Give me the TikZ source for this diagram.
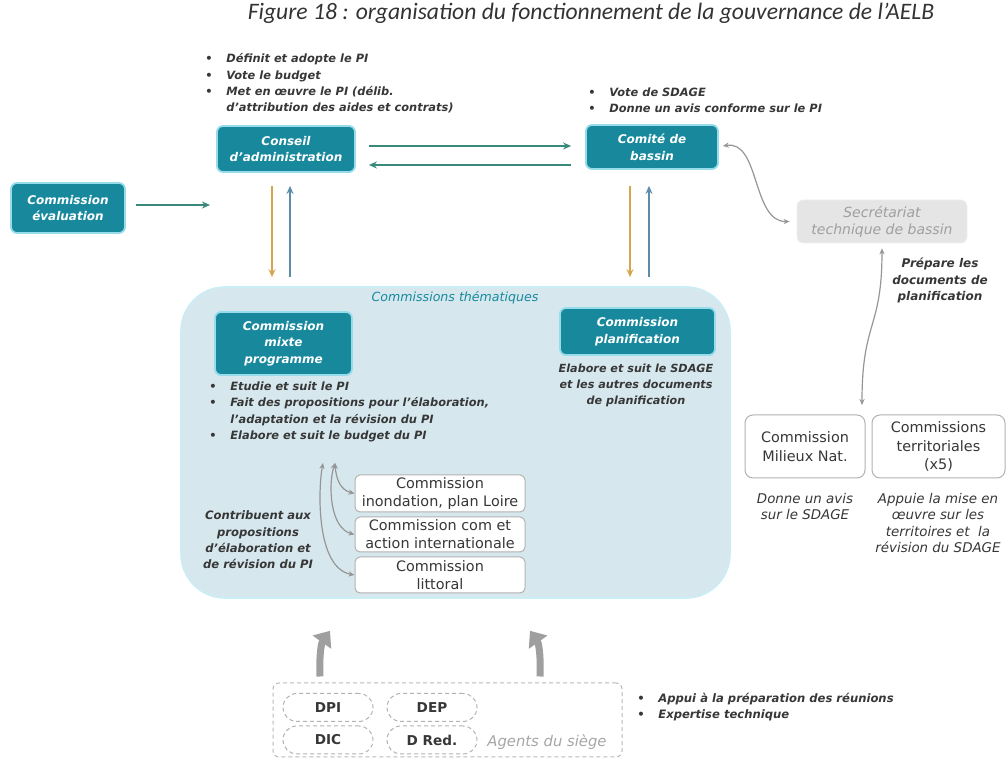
\documentclass[tikz,border=0pt]{standalone}
\usepackage{fontspec}
\setmainfont{DejaVu Sans}[BoldFont={DejaVu Sans Bold},ItalicFont={DejaVu Sans Oblique},BoldItalicFont={DejaVu Sans Bold Oblique}]
\newfontfamily\figtitlefont{Carlito}
\usetikzlibrary{calc,arrows.meta}
\definecolor{aelbteal}{RGB}{24,137,157}
\definecolor{aelbglow}{RGB}{150,220,235}
\definecolor{themefill}{RGB}{214,232,238}
\definecolor{txtgray}{RGB}{55,55,55}
\definecolor{arrgreen}{RGB}{58,138,124}
\definecolor{arrorange}{RGB}{212,166,78}
\definecolor{arrblue}{RGB}{92,140,170}
\definecolor{arrgray}{RGB}{150,150,150}
\def\setfs#1#2{\fontsize{#1}{#2}\selectfont}
\def\bullitem{\makebox[10.5pt][l]{\textbullet}}
\def\bullcont{\hspace*{10.5pt}}

\begin{document}
\begin{tikzpicture}[x=0.5pt,y=-0.5pt,
	tealbox/.style={draw=aelbglow, line width=0.9pt, fill=aelbteal, rounded corners=3pt, text=white, align=center, inner sep=0pt, font=\bfseries\itshape\setfs{6}{8.3}},
	whitebox/.style={draw=gray!60, line width=0.5pt, fill=white, rounded corners=2.5pt, text=txtgray, align=center, inner sep=0pt, font=\setfs{7.2}{9}},
	terrbox/.style={whitebox, rounded corners=4pt, font=\setfs{7.2}{9.2}},
	pill/.style={draw=gray!60, dash pattern=on 2pt off 1.5pt, line width=0.5pt, rounded corners=7pt, text=txtgray, inner sep=0pt, font=\bfseries\setfs{6.8}{8}, minimum width=45pt, minimum height=14pt},
	bullets/.style={anchor=west, align=left, inner sep=0pt, text=txtgray, font=\bfseries\itshape\setfs{5.7}{8.2}},
	note/.style={align=center, inner sep=0pt, text=txtgray, font=\bfseries\itshape\setfs{5.8}{8.2}},
	plainnote/.style={align=center, inner sep=0pt, text=txtgray, font=\itshape\setfs{6.7}{8.3}},
	link/.style={line width=0.75pt, -{Stealth[length=4pt,width=3.5pt]}},
	glink/.style={draw=arrgray, line width=0.6pt, {Stealth[length=3pt,width=2.6pt]}-{Stealth[length=3pt,width=2.6pt]}},
	bigarrow/.style={draw=gray!75!white, line width=3.5pt, -{Triangle[length=7pt,width=11pt]}}]
			%%%%% START %%%%%
			\useasboundingbox (0,0) rectangle (1008,758);
			
			\node[font=\figtitlefont\itshape\setfs{11.8}{13}, text=black!80] (title) at (591,13) {Figure 18 : organisation du fonctionnement de la gouvernance de l’AELB};
			
			% conseil et comite
			\node[bullets] (calist) at (205,83.5) {\bullitem Définit et adopte le PI\\ \bullitem Vote le budget\\ \bullitem Met en œuvre le PI (délib.\\ \bullcont d’attribution des aides et contrats)};
			\node[tealbox, minimum width=69pt, minimum height=23pt] (conseil) at (286,149) {Conseil\\d’administration};
			\node[bullets] (cblist) at (588,100) {\bullitem Vote de SDAGE\\ \bullitem Donne un avis conforme sur le PI};
			\node[tealbox, minimum width=66pt, minimum height=22pt] (comite) at (652,147) {Comité de\\bassin};
			\node[tealbox, minimum width=57pt, minimum height=25pt] (evaluation) at (68,208) {Commission\\évaluation};
			\coordinate (evalend) at (210,205);
			
			\draw[link, arrgreen] ($(conseil.east)+(13,-3)$) -- ($(comite.west)+(-14,-1)$);
			\draw[link, arrgreen] ($(comite.west)+(-14,18)$) -- ($(conseil.east)+(13,16)$);
			\draw[link, arrgreen] ($(evaluation.east)+(10,-3)$) -- (evalend);
			
			% secretariat
			\node[draw=gray!12, fill=gray!20, rounded corners=3pt, minimum width=85pt, minimum height=21.5pt, inner sep=0pt, align=center, text=gray!75, font=\itshape\setfs{7}{8.6}] (secretariat) at (882,221.5) {Secrétariat\\technique de bassin};
			\node[note, font=\bfseries\itshape\setfs{6}{8.2}] (prepare) at (940,280.5) {Prépare les\\documents de\\planification};
			
			% commissions thematiques
			\node[fill=themefill, draw=aelbglow!50, line width=0.8pt, rounded corners=22pt, minimum width=274.5pt, minimum height=155.5pt] (theme) at (455.5,442.5) {};
			\node[text=aelbteal, inner sep=0pt, font=\itshape\setfs{6.3}{8}] (themetitle) at (455,298) {Commissions thématiques};
			
			\draw[link, arrorange] ($(conseil.south)+(-14,13)$) -- ($(conseil.south |- theme.north)+(-14,-9)$);
			\draw[link, arrblue] ($(conseil.south |- theme.north)+(4,-9)$) -- ($(conseil.south)+(4,13)$);
			\draw[link, arrorange] ($(comite.south)+(-22,16)$) -- ($(comite.south |- theme.north)+(-22,-9)$);
			\draw[link, arrblue] ($(comite.south |- theme.north)+(-3,-9)$) -- ($(comite.south)+(-3,16)$);
			
			\node[tealbox, minimum width=68.5pt, minimum height=31.5pt] (mixte) at (283.5,343.5) {Commission\\mixte\\programme};
			\node[tealbox, minimum width=77.5pt, minimum height=23.5pt] (planif) at (637.5,331.5) {Commission\\planification};
			\node[note, font=\bfseries\itshape\setfs{5.6}{8.2}] (elabore) at (636,385.5) {Elabore et suit le SDAGE\\et les autres documents\\de planification};
			\node[bullets] (mixtelist) at (209,412) {\bullitem Etudie et suit le PI\\ \bullitem Fait des propositions pour l’élaboration,\\ \bullcont l’adaptation et la révision du PI\\ \bullitem Elabore et suit le budget du PI};
			
			\node[whitebox, minimum width=85pt, minimum height=18.5pt] (inondation) at (440,493.5) {Commission\\inondation, plan Loire};
			\node[whitebox, minimum width=85pt, minimum height=17.5pt] (comaction) at (440,534.5) {Commission com et\\action internationale};
			\node[whitebox, minimum width=85pt, minimum height=18pt] (littoral) at (440,575) {Commission\\littoral};
			\coordinate (tipa) at (323,463);
			\coordinate (tipb) at (335,463);
			\draw[glink] (inondation.west) .. controls (340,490) and (336,478) .. (tipb);
			\draw[glink] (comaction.west) .. controls (330,528) and (328,485) .. (tipb);
			\draw[glink] (littoral.west) .. controls (316,568) and (318,490) .. (tipa);
			\node[note] (contribuent) at (258,540) {Contribuent aux\\propositions\\d’élaboration et\\de révision du PI};
			
			% commissions du bassin
			\node[terrbox, minimum width=60pt, minimum height=31.5pt] (milieux) at (805,446.5) {Commission\\Milieux Nat.};
			\node[terrbox, minimum width=66.5pt, minimum height=31.5pt] (territoriales) at (938.5,446.5) {Commissions\\territoriales\\(x5)};
			\node[plainnote] (avis) at (805,506.5) {Donne un avis\\sur le SDAGE};
			\node[plainnote] (appuie) at (938,523) {Appuie la mise en\\œuvre sur les\\territoires et~ la\\révision du SDAGE};
			\coordinate (splitpt) at (862,405);
			
			\draw[glink] ($(comite.east)+(4,-1)$) .. controls (760,140) and (752,222) .. ($(secretariat.west)+(-7,0)$);
			\draw[glink] ($(secretariat.south)+(0,5)$) .. controls (882,330) and (862,320) .. (splitpt);
			
			% agents du siege
			\node[draw=gray!55, dash pattern=on 2pt off 1.5pt, line width=0.5pt, rounded corners=3pt, minimum width=174.5pt, minimum height=37pt] (agents) at (447.5,720) {};
			\node[pill] (dpi) at (328,707.5) {DPI};
			\node[pill] (dep) at (432,707.5) {DEP};
			\node[pill] (dic) at (328,740) {DIC};
			\node[pill] (dred) at (432,740) {D Red.};
			\node[text=gray!70, inner sep=0pt, font=\itshape\setfs{7.4}{9}] (agentslbl) at (547,742) {Agents du siège};
			\node[bullets, font=\bfseries\itshape\setfs{5.8}{8.2}] (appuilist) at (637,707) {\bullitem Appui à la préparation des réunions\\ \bullitem Expertise technique};
			
			\draw[bigarrow] ($(agents.north)+(-127.5,-6)$) .. controls (319,652) and (322,642) .. ($(theme.south)+(-125.5,32)$);
			\draw[bigarrow] ($(agents.north)+(92.5,-6)$) .. controls (541,652) and (538,642) .. ($(theme.south)+(74.5,32)$);
			
			%%%%% END %%%%%
\end{tikzpicture}
\end{document}
